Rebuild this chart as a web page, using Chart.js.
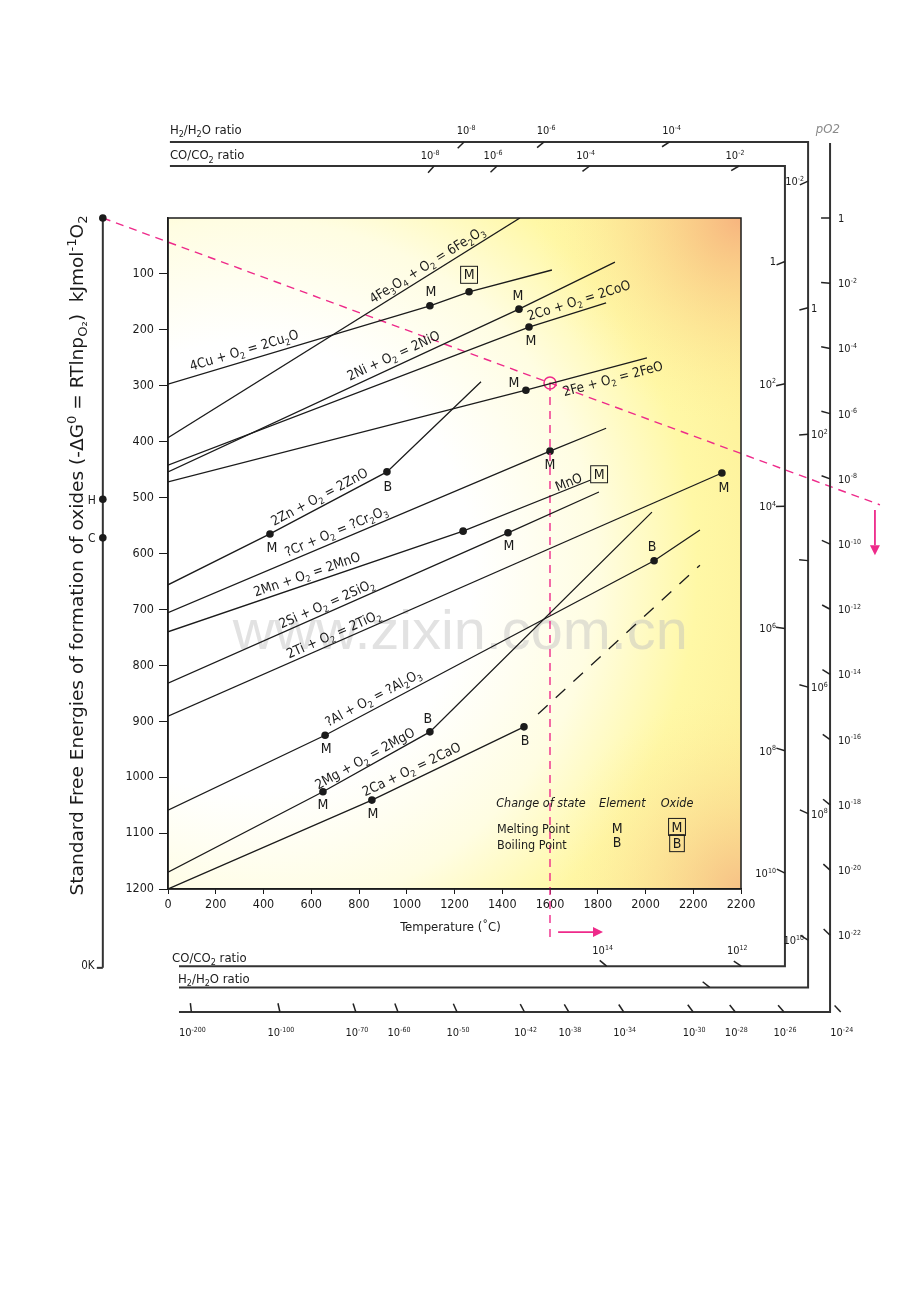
<!DOCTYPE html>
<html lang="en">
<head>
<meta charset="UTF-8">
<title>Ellingham Diagram</title>
<script src="https://cdn.jsdelivr.net/npm/chart.js"></script>
<style>
  html, body { margin: 0; padding: 0; background: #fff; }
  #wrap { width: 920px; height: 1302px; position: relative; }
</style>
</head>
<body>
<div id="wrap"><canvas id="ellingham"></canvas></div>
<script>
// T in degC, free energy plotted as -dG in kJ per mol O2
const cuLine    = [[0, 297], [1097, 157], [1261, 132], [1608, 93]];
const fe3o4Line = [[0, 393], [1474, 0]];
const niLine    = [[0, 454], [1470, 163], [1872, 79]];
const coLine    = [[0, 442], [1512, 195], [1835, 152]];
const feoLine   = [[0, 472], [1499, 308], [2006, 250]];
const znLine    = [[0, 656], [427, 565], [917, 454], [1311, 293]];
const crLine    = [[0, 706], [1600, 417], [1835, 376]];
const mnLine    = [[0, 740], [1236, 560], [1768, 469]];
const siLine    = [[0, 832], [1424, 563], [1805, 490]];
const tiLine    = [[0, 891], [2320, 456]];
const alLine    = [[0, 1059], [658, 925], [2036, 613], [2228, 558]];
const mgLine    = [[0, 1170], [649, 1026], [1097, 919], [2027, 526]];
const caLine    = [[0, 1200], [854, 1041], [1491, 910]];
const caDashed  = [[1550, 887], [2228, 621]];

const reactionLabels = [
  '4Cu + O_{2} = 2Cu_{2}O', '4Fe_{3}O_{4} + O_{2} = 6Fe_{2}O_{3}', '2Ni + O_{2} = 2NiO',
  '2Co + O_{2} = 2CoO', '2Fe + O_{2} = 2FeO', '2Zn + O_{2} = 2ZnO', '?Cr + O_{2} = ?Cr_{2}O_{3}',
  '2Mn + O_{2} = 2MnO', '2Si + O_{2} = 2SiO_{2}', '2Ti + O_{2} = 2TiO_{2}',
  '?Al + O_{2} = ?Al_{2}O_{3}', '2Mg + O_{2} = 2MgO', '2Ca + O_{2} = 2CaO'
];

// changes of state
const meltElement = [[1097, 157], [1470, 163], [1512, 195], [1499, 308], [427, 565], [1600, 417],
                     [1424, 563], [2320, 456], [658, 925], [649, 1026], [854, 1041]];
const meltOxide   = [[1261, 132]];
const boilElement = [[917, 454], [2036, 613], [1097, 919], [1491, 910]];
const otherDots   = [[1236, 560]];

// worked example (FeO at 1600 C) and the 0 K axis
const zeroKelvin = [[-273, 0], [-273, 1341]];
const refPoints  = [[-273, 0], [-273, 503], [-273, 572]];
const refNames   = ['', 'H', 'C'];
const oxygenRay  = [[-273, 0], [1600, 295], [2982, 513]];
const tempDrop   = [[1600, 295], [1600, 1291]];
const pO2Arrow   = [[2961, 522], [2961, 603]];
const tempArrow  = [[1634, 1277], [1822, 1277]];

// nomogram scales (exponents of 10)
const h2TopExp     = [-8, -6, -4];
const h2RightExp   = [-2, 0, 2, 4, 6, 8, 10];
const h2BottomExp  = [12];
const coTopExp     = [-8, -6, -4, -2];
const coRightExp   = [0, 2, 4, 6, 8, 10];
const coBottomExp  = [14, 12];
const pO2RightExp  = [0, -2, -4, -6, -8, -10, -12, -14, -16, -18, -20, -22];
const pO2BottomExp = [-200, -100, -70, -60, -50, -42, -38, -34, -30, -28, -26, -24];

// constants behind the scales
const R = 0.008314;        // kJ/mol/K
const ABS0 = -273;
const hPoint = 503, h2Entropy = 0.116;   // 2H2 + O2 = 2H2O
const cPoint = 572, coEntropy = 0.173;   // 2CO + O2 = 2CO2

const INK = '#1b1b1b';
const PINK = '#ee2a8a';
const FONT = "'Liberation Sans Narrow', 'DejaVu Sans Condensed', 'Liberation Sans', sans-serif";

const toXY = arr => arr.map(([x, y]) => ({ x, y }));

// ---- small rich text helper: ^{sup} and _{sub} ----
function parseRich(s) {
  const parts = [], re = /([\^_])\{([^}]*)\}/g;
  let last = 0, m;
  while ((m = re.exec(s))) {
    if (m.index > last) parts.push({ t: s.slice(last, m.index), k: 'n' });
    parts.push({ t: m[2], k: m[1] === '^' ? 'sup' : 'sub' });
    last = re.lastIndex;
  }
  if (last < s.length) parts.push({ t: s.slice(last), k: 'n' });
  return parts;
}

function richText(c, s, x, y, o) {
  o = o || {};
  const size = o.size || 12, fam = o.family || FONT, st = o.italic ? 'italic ' : '';
  const parts = parseRich(s);
  const fontFor = k => st + (k === 'n' ? size : Math.round(size * 0.68)) + 'px ' + fam;
  let w = 0;
  parts.forEach(p => { c.font = fontFor(p.k); p.w = c.measureText(p.t).width; w += p.w; });
  const sx = o.fitWidth ? o.fitWidth / w : 1;
  c.save();
  c.translate(x, y);
  if (o.angle) c.rotate(o.angle);
  if (sx !== 1) c.scale(sx, 1);
  c.fillStyle = o.color || INK;
  c.textBaseline = 'alphabetic';
  c.textAlign = 'left';
  let cx = o.align === 'left' ? 0 : o.align === 'right' ? -w : -w / 2;
  const base = size * 0.36;
  parts.forEach(p => {
    c.font = fontFor(p.k);
    const dy = p.k === 'sup' ? -size * 0.4 : p.k === 'sub' ? size * 0.24 : 0;
    c.fillText(p.t, cx, base + dy);
    cx += p.w;
  });
  c.restore();
  return w;
}

function boxedLetter(c, ch, x, y, size) {
  c.save();
  c.font = size + 'px ' + FONT;
  const w = c.measureText(ch).width + 6, h = size + 3;
  c.fillStyle = INK;
  c.textAlign = 'center';
  c.textBaseline = 'middle';
  c.fillText(ch, x, y + 1);
  c.strokeStyle = INK;
  c.lineWidth = 1;
  c.strokeRect(x - w / 2, y - h / 2, w, h);
  c.restore();
}

function arrow(c, p1, p2, color) {
  const ang = Math.atan2(p2.y - p1.y, p2.x - p1.x), hl = 10;
  c.save();
  c.strokeStyle = color; c.fillStyle = color; c.lineWidth = 1.8;
  c.beginPath(); c.moveTo(p1.x, p1.y);
  c.lineTo(p2.x - hl * Math.cos(ang), p2.y - hl * Math.sin(ang)); c.stroke();
  c.beginPath();
  c.moveTo(p2.x, p2.y);
  c.lineTo(p2.x - hl * Math.cos(ang) + 5 * Math.sin(ang), p2.y - hl * Math.sin(ang) - 5 * Math.cos(ang));
  c.lineTo(p2.x - hl * Math.cos(ang) - 5 * Math.sin(ang), p2.y - hl * Math.sin(ang) + 5 * Math.cos(ang));
  c.closePath(); c.fill();
  c.restore();
}

const expLabel = e => e === 0 ? '1' : '10^{' + (e < 0 ? '-' + (-e) : e) + '}';

// rays of the three nomogram scales
const rayO = e => ({ g0: 0, k: -R * e * Math.LN10 });
const rayH = e => ({ g0: hPoint, k: -h2Entropy + 2 * R * e * Math.LN10 });
const rayC = e => ({ g0: cPoint, k: -coEntropy + 2 * R * e * Math.LN10 });
const hitV = (ray, t) => [t, ray.g0 + (t - ABS0) * ray.k];
const hitH = (ray, g) => [(g - ray.g0) / ray.k + ABS0, g];

// frame lines of the scales, in T / -dG units
const h2Frame = { top: -136, right: 2681, bottom: 1376 };
const coFrame = { top: -93, right: 2584, bottom: 1338 };
const oFrame  = { top: -134, right: 2773, bottom: 1420 };
const frameStart = { top: 8, bottom: 46 };

const reactions = [cuLine, fe3o4Line, niLine, coLine, feoLine, znLine, crLine,
                   mnLine, siLine, tiLine, alLine, mgLine, caLine];
// label anchor temperature and offset (px) normal to the line
const labelPlacement = [[331, 11], [1106, 10], [963, 11], [1734, 11], [1851, -11], [653, 10],
                        [720, 10], [595, 10], [679, 9], [708, 9], [880, 11], [842, 9], [1039, 11]];
const meltElementSide = [[1, -13], [-1, -13], [2, 14], [-12, -7], [2, 14], [0, 14],
                         [1, 14], [2, 15], [1, 14], [0, 14], [1, 14]];
const boilElementSide = [[1, 15], [-2, -13], [-2, -13], [1, 15]];

const nomogram = {
  id: 'nomogram',
  beforeDraw(chart) {
    const c = chart.ctx, a = chart.chartArea, w = a.right - a.left, h = a.bottom - a.top;
    c.save();
    c.fillStyle = '#fff';
    c.fillRect(0, 0, chart.width, chart.height);
    c.beginPath(); c.rect(a.left, a.top, w, h); c.clip();
    const cx = a.left + 0.14 * w, cy = a.top + 0.52 * h;
    const g = c.createRadialGradient(cx, cy, 0, cx, cy, 0.98 * w);
    g.addColorStop(0, '#ffffff');
    g.addColorStop(0.4, '#ffffff');
    g.addColorStop(0.62, '#fffde2');
    g.addColorStop(0.8, '#fff8a6');
    g.addColorStop(1, '#fdee96');
    c.fillStyle = g;
    c.fillRect(a.left, a.top, w, h);
    [[a.right, a.top, 0.36 * w, 'rgba(246,170,122,0.85)'], [a.right, a.bottom, 0.34 * w, 'rgba(244,176,128,0.72)']]
      .forEach(([x, y, r, col]) => {
        const rg = c.createRadialGradient(x, y, 0, x, y, r);
        rg.addColorStop(0, col);
        rg.addColorStop(1, 'rgba(255,240,150,0)');
        c.fillStyle = rg;
        c.fillRect(a.left, a.top, w, h);
      });
    c.restore();
  },
  beforeDatasetsDraw(chart) {
    const c = chart.ctx, a = chart.chartArea, w = a.right - a.left, h = a.bottom - a.top;
    c.save();
    c.font = '56px "Liberation Sans", sans-serif';
    const tw = c.measureText('www.zixin.com.cn').width;
    c.translate(a.left + 0.51 * w, a.top + 0.62 * h);
    c.scale(455 / tw, 1);
    c.fillStyle = 'rgba(190,190,190,0.45)';
    c.textAlign = 'center'; c.textBaseline = 'middle';
    c.fillText('www.zixin.com.cn', 0, 0);
    c.restore();
  },
  afterDatasetsDraw(chart) {
    const c = chart.ctx, a = chart.chartArea;
    const xs = chart.scales.x, ys = chart.scales.y;
    const P = (t, g) => ({ x: xs.getPixelForValue(t), y: ys.getPixelForValue(g) });

    // plot border
    c.save();
    c.strokeStyle = INK; c.lineWidth = 1.5;
    c.strokeRect(a.left, a.top, a.right - a.left, a.bottom - a.top);
    c.restore();

    // scale frames
    c.save();
    c.strokeStyle = '#333'; c.lineWidth = 2; c.lineJoin = 'miter';
    [h2Frame, coFrame].forEach(f => {
      const pts = [P(frameStart.top, f.top), P(f.right, f.top), P(f.right, f.bottom), P(frameStart.bottom, f.bottom)];
      c.beginPath(); c.moveTo(pts[0].x, pts[0].y);
      pts.slice(1).forEach(p => c.lineTo(p.x, p.y));
      c.stroke();
    });
    const o1 = P(oFrame.right, oFrame.top), o2 = P(oFrame.right, oFrame.bottom), o3 = P(frameStart.bottom, oFrame.bottom);
    c.beginPath(); c.moveTo(o1.x, o1.y); c.lineTo(o2.x, o2.y); c.lineTo(o3.x, o3.y); c.stroke();
    c.restore();

    // ticks along the rays + labels
    const scales = [
      { exps: h2TopExp, ray: rayH, hit: r => hitH(r, h2Frame.top), place: 'top', dx: 2, dy: -12 },
      { exps: h2RightExp, ray: rayH, hit: r => hitV(r, h2Frame.right), place: 'right', dx: 3, dy: 0 },
      { exps: h2BottomExp, ray: rayH, hit: r => hitH(r, h2Frame.bottom), place: 'top', dx: 0, dy: -14 },
      { exps: coTopExp, ray: rayC, hit: r => hitH(r, coFrame.top), place: 'top', dx: -4, dy: -11 },
      { exps: coRightExp, ray: rayC, hit: r => hitV(r, coFrame.right), place: 'left', dx: -9, dy: 0 },
      { exps: coBottomExp, ray: rayC, hit: r => hitH(r, coFrame.bottom), place: 'top', dx: -4, dy: -16 },
      { exps: pO2RightExp, ray: rayO, hit: r => hitV(r, oFrame.right), place: 'right', dx: 8, dy: 0 },
      { exps: pO2BottomExp, ray: rayO, hit: r => hitH(r, oFrame.bottom), place: 'top', dx: 1, dy: 20 }
    ];
    const unlabeled = new Set(['H4', 'H12']);
    c.save();
    c.strokeStyle = '#222'; c.lineWidth = 1.5;
    scales.forEach(s => {
      s.exps.forEach(e => {
        const r = s.ray(e);
        const p = P(...s.hit(r)), o = P(ABS0, r.g0);
        const len = Math.hypot(o.x - p.x, o.y - p.y);
        const ux = (o.x - p.x) / len, uy = (o.y - p.y) / len;
        c.beginPath(); c.moveTo(p.x, p.y); c.lineTo(p.x + 9 * ux, p.y + 9 * uy); c.stroke();
        const key = (s.ray === rayH ? 'H' : s.ray === rayC ? 'C' : 'O') + e;
        if (unlabeled.has(key)) return;
        let place = s.place, dx = s.dx;
        if (s.ray === rayH && s.place === 'right' && (e <= -2 || e >= 10)) { place = 'left'; dx = -4; }
        if (place === 'top') richText(c, expLabel(e), p.x + dx, p.y + s.dy, { size: 11 });
        else richText(c, expLabel(e), p.x + dx, p.y + s.dy, { size: 11, align: place === 'right' ? 'left' : 'right' });
      });
    });
    c.restore();

    // scale titles
    const t1 = P(frameStart.top, -159), t2 = P(frameStart.top, -113);
    richText(c, 'H_{2}/H_{2}O ratio', t1.x, t1.y, { size: 13, align: 'left' });
    richText(c, 'CO/CO_{2} ratio', t2.x, t2.y, { size: 13, align: 'left' });
    const b1 = P(17, 1322), b2 = P(42, 1359);
    richText(c, 'CO/CO_{2} ratio', b1.x, b1.y, { size: 13, align: 'left' });
    richText(c, 'H_{2}/H_{2}O ratio', b2.x, b2.y, { size: 13, align: 'left' });
    const po = P(2764, -161);
    richText(c, 'pO2', po.x, po.y, { size: 13, italic: true, color: '#8a8a8a' });

    // reaction labels along their lines
    reactions.forEach((line, i) => {
      const [t, off] = labelPlacement[i];
      let k = 0;
      while (k < line.length - 2 && line[k + 1][0] < t) k++;
      const p1 = P(...line[k]), p2 = P(...line[k + 1]);
      const ang = Math.atan2(p2.y - p1.y, p2.x - p1.x);
      const f = (xs.getPixelForValue(t) - p1.x) / (p2.x - p1.x);
      const px = p1.x + f * (p2.x - p1.x), py = p1.y + f * (p2.y - p1.y);
      richText(c, reactionLabels[i], px + off * Math.sin(ang), py - off * Math.cos(ang), { size: 13.5, angle: ang });
    });
    // MnO melting point at the end of the Mn line
    {
      const n = mnLine.length, p1 = P(...mnLine[n - 2]), p2 = P(...mnLine[n - 1]);
      const ang = Math.atan2(p2.y - p1.y, p2.x - p1.x);
      richText(c, 'MnO', p2.x - 19 + 7 * Math.sin(ang), p2.y + 8 - 7 * Math.cos(ang), { size: 13.5, angle: ang });
      boxedLetter(c, 'M', p2.x + 9, p2.y - 6, 14);
    }

    // M / B marks
    c.save();
    c.fillStyle = INK; c.font = '14px ' + FONT; c.textAlign = 'center'; c.textBaseline = 'middle';
    meltElement.forEach((d, i) => { const p = P(...d); c.fillText('M', p.x + meltElementSide[i][0], p.y + meltElementSide[i][1]); });
    boilElement.forEach((d, i) => { const p = P(...d); c.fillText('B', p.x + boilElementSide[i][0], p.y + boilElementSide[i][1]); });
    c.restore();
    meltOxide.forEach(d => { const p = P(...d); boxedLetter(c, 'M', p.x, p.y - 17, 14); });

    // 0 K axis: end tick, reference points (outside the plot area) and labels
    const zk = P(...zeroKelvin[1]);
    c.save(); c.strokeStyle = '#333'; c.lineWidth = 2;
    c.beginPath(); c.moveTo(zk.x - 6, zk.y); c.lineTo(zk.x, zk.y); c.stroke();
    c.fillStyle = INK;
    refPoints.forEach(d => {
      const p = P(...d);
      c.beginPath(); c.arc(p.x, p.y, 3.8, 0, Math.PI * 2); c.fill();
    });
    c.restore();
    refPoints.forEach((d, i) => {
      if (!refNames[i]) return;
      const p = P(...d);
      richText(c, refNames[i], p.x - 11, p.y, { size: 12 });
    });
    richText(c, '0K', zk.x - 15, zk.y - 3, { size: 11.5 });

    // arrows of the worked example
    arrow(c, P(...pO2Arrow[0]), P(...pO2Arrow[1]), PINK);
    arrow(c, P(...tempArrow[0]), P(...tempArrow[1]), PINK);

    // legend for changes of state
    [['Change of state', 1562], ['Element', 1903], ['Oxide', 2132]].forEach(([s, t]) => {
      const p = P(t, 1045); richText(c, s, p.x, p.y, { size: 12.5, italic: true });
    });
    const m1 = P(1378, 1091), m2 = P(1378, 1120);
    richText(c, 'Melting Point', m1.x, m1.y, { size: 12.5, align: 'left' });
    richText(c, 'Boiling Point', m2.x, m2.y, { size: 12.5, align: 'left' });
    const e1 = P(1881, 1091), e2 = P(1881, 1116);
    richText(c, 'M', e1.x, e1.y, { size: 14 });
    richText(c, 'B', e2.x, e2.y, { size: 14 });
    const x1 = P(2132, 1089), x2 = P(2132, 1118);
    boxedLetter(c, 'M', x1.x, x1.y, 14);
    boxedLetter(c, 'B', x2.x, x2.y, 14);

    // axis titles
    richText(c, 'Temperature (˚C)', (a.left + a.right) / 2 - 4, a.bottom + 37, { size: 13 });
    richText(c, 'Standard Free Energies of formation of oxides (-ΔG^{0} = RTlnp_{O₂})  kJmol^{-1}O_{2}',
      a.left - 91, (a.top + a.bottom) / 2 + 2, { size: 17, angle: -Math.PI / 2, fitWidth: 680 });
  }
};

const lineSet = (arr, extra) => Object.assign({
  data: toXY(arr), showLine: true, borderColor: INK, borderWidth: 1.3,
  pointRadius: 0, pointHoverRadius: 0, fill: false, tension: 0
}, extra || {});

new Chart(document.getElementById('ellingham'), {
  type: 'scatter',
  data: {
    datasets: [
      ...reactions.map(l => lineSet(l)),
      lineSet(caDashed, { borderDash: [13, 11] }),
      lineSet(zeroKelvin, { borderColor: '#333', borderWidth: 2, clip: false }),
      lineSet(oxygenRay, { borderColor: PINK, borderWidth: 1.4, borderDash: [8, 6], clip: false }),
      lineSet(tempDrop, { borderColor: PINK, borderWidth: 1.4, borderDash: [8, 6], clip: false }),
      {
        data: toXY([...meltElement, ...meltOxide, ...boilElement, ...otherDots]),
        showLine: false, pointRadius: 3.8, pointBackgroundColor: INK, pointBorderWidth: 0
      },
      {
        data: toXY([oxygenRay[1]]), showLine: false, pointRadius: 6,
        pointBackgroundColor: 'rgba(0,0,0,0)', pointBorderColor: PINK, pointBorderWidth: 1.5
      }
    ]
  },
  options: {
    responsive: true,
    maintainAspectRatio: false,
    animation: false,
    devicePixelRatio: 1,
    layout: { padding: { left: 123, right: 179, top: 218, bottom: 377 } },
    plugins: { legend: { display: false }, tooltip: { enabled: false } },
    scales: {
      x: {
        type: 'linear', min: 0, max: 2400, position: 'bottom',
        ticks: {
          stepSize: 200, autoSkip: false, maxRotation: 0, padding: 3, color: INK,
          font: { family: FONT, size: 12.5 },
          callback: v => v === 2400 ? '2200' : v
        },
        grid: { drawOnChartArea: false, tickLength: 5, color: INK },
        border: { color: INK, width: 1.5 },
        afterFit: s => { s.height = 36; }
      },
      y: {
        type: 'linear', min: 0, max: 1200, reverse: true,
        ticks: {
          stepSize: 100, padding: 5, color: INK,
          font: { family: FONT, size: 12.5 },
          callback: v => v === 0 ? '' : v
        },
        grid: {
          drawOnChartArea: false, tickLength: 9,
          color: ctx => ctx.tick && ctx.tick.value === 0 ? 'rgba(0,0,0,0)' : INK
        },
        border: { color: INK, width: 1.5 },
        afterFit: s => { s.width = 45; }
      }
    }
  },
  plugins: [nomogram]
});
</script>
</body>
</html>
